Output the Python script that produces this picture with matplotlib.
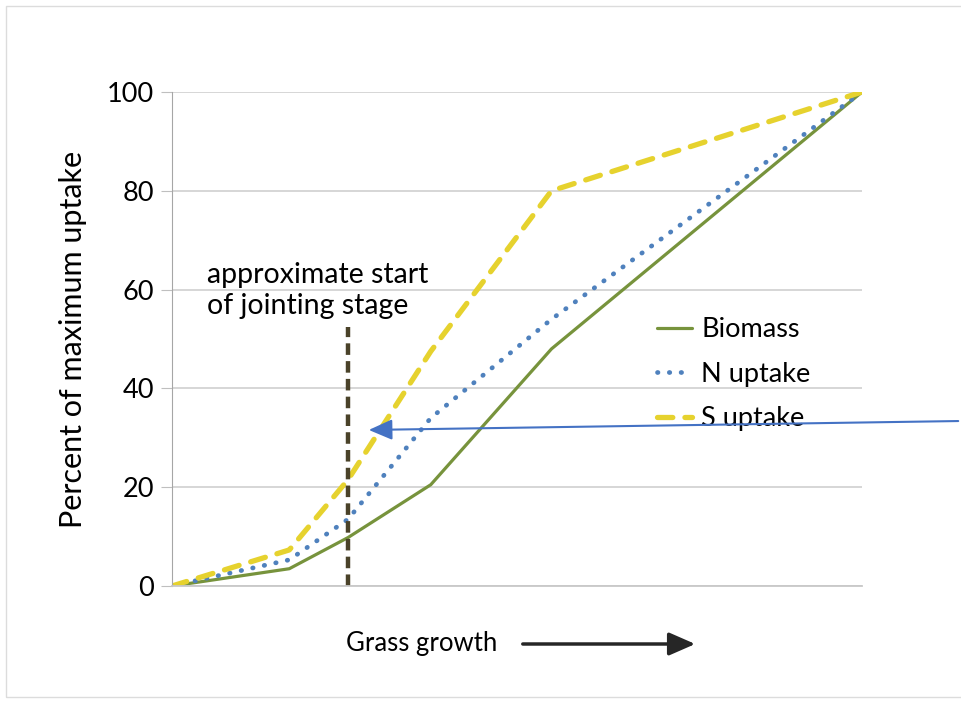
import matplotlib
matplotlib.use("Agg")
import matplotlib.pyplot as plt
from matplotlib.patches import Rectangle, FancyArrowPatch

plt.rcParams["font.family"] = ["Lato", "DejaVu Sans"]

# growth stage position (0 = start, 100 = end of the x range)
growth = [0, 17, 25.5, 37.5, 55, 100]
biomass = [0, 3.5, 9.8, 20.5, 48, 100]
n_uptake = [0, 5.3, 13.5, 34, 54, 100]
s_uptake = [0, 7.3, 21.5, 47.5, 80, 100]
jointing_x = 25.5
y_ticks = [0, 20, 40, 60, 80, 100]

fig = plt.figure(figsize=(9.61, 7.01), dpi=100)
ax = fig.add_axes([172 / 961, 1 - 586 / 701, 690 / 961, 494 / 701])

ax.plot(growth, biomass, color="#77933c", lw=2.3, label="Biomass", solid_capstyle="round")
ax.plot(growth, n_uptake, color="#4f81bd", lw=3.4, ls=(0, (0.1, 2.4)),
        dash_capstyle="round", label="N uptake")
ax.plot(growth, s_uptake, color="#e6d22e", lw=3.8, ls=(0, (2.9, 2.3)),
        dash_capstyle="round", label="S uptake")

ax.set_xlim(0, 100)
ax.set_ylim(0, 100)
ax.set_yticks(y_ticks)
ax.set_xticks([])
ax.tick_params(axis="y", labelsize=19.5, length=8, color="#bfbfbf", pad=5)
ax.grid(axis="y", color="#d0d0d0", lw=1.2)
ax.set_axisbelow(True)
for s in ("top", "right"):
    ax.spines[s].set_visible(False)
ax.spines["left"].set_color("#a6a6a6")
ax.spines["bottom"].set_color("#c8c8c8")
ax.spines["bottom"].set_linewidth(1.3)
ax.set_ylabel("Percent of maximum uptake", fontsize=22, labelpad=14)

# start of jointing marker
ax.plot([jointing_x, jointing_x], [0, 52.5], color="#4a4229", lw=3.2, ls=(0, (2.6, 1.4)))
ax.text(5.1, 54, "approximate start\nof jointing stage", fontsize=20.5, linespacing=1.25,
        va="bottom", ha="left")

leg = ax.legend(loc="upper left", bbox_to_anchor=(0.667, 0.593), frameon=False,
                fontsize=19.5, handlelength=1.3, handletextpad=0.35, labelspacing=0.72)

# blue annotation arrow
fig.add_artist(FancyArrowPatch(
    (961 / 961, 1 - 421 / 701), (366 / 961, 1 - 430 / 701), transform=fig.transFigure,
    arrowstyle="-|>,head_length=8,head_width=3.5", color="#4472c4", lw=1.5,
    mutation_scale=1.8))

# x-axis caption with arrow
fig.text(422 / 961, 1 - 644 / 701, "Grass growth", fontsize=18.5, ha="center", va="center")
fig.add_artist(FancyArrowPatch(
    (520 / 961, 1 - 644 / 701), (698 / 961, 1 - 644 / 701), transform=fig.transFigure,
    arrowstyle="-|>,head_length=8,head_width=3.5", color="#262626", lw=2.5,
    mutation_scale=2))

# light outer frame
fig.add_artist(Rectangle((6 / 961, 1 - 697 / 701), 1.0, 691 / 701, transform=fig.transFigure,
                         fill=False, ec="#dcdcdc", lw=1))

fig.savefig("out.png", dpi=100)
